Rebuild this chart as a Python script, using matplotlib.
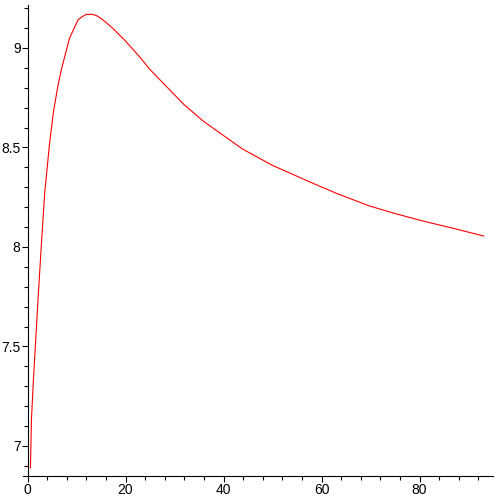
import numpy as np
import matplotlib
matplotlib.use('Agg')
import matplotlib.pyplot as plt
from matplotlib.ticker import MultipleLocator, FixedLocator

# values
x = [0.6, 0.8, 1.2, 1.6, 2.2, 2.8, 3.5, 4.5, 5.3, 6.2, 7.0, 8.57, 10.3,
     11.2, 12.0, 13.3, 14.3, 15.4, 17.4, 19.8, 22.9, 24.9, 29, 32, 36, 40,
     43.9, 50, 57.6, 63, 69.8, 75, 80.6, 87, 93.1]
y = [6.89, 7.13, 7.33, 7.5, 7.76, 8.0, 8.27, 8.52, 8.68, 8.81, 8.90, 9.049,
     9.141, 9.158, 9.169, 9.169, 9.160, 9.141, 9.099, 9.04, 8.955, 8.894,
     8.79, 8.714, 8.63, 8.56, 8.492, 8.41, 8.327, 8.27, 8.206, 8.168, 8.131,
     8.093, 8.055]

xticks = [0, 20, 40, 60, 80]
yticks = [7, 7.5, 8, 8.5, 9]
ytick_labels = ['7', '7.5', '8', '8.5', '9']

plt.rcParams['font.family'] = ['Liberation Sans', 'DejaVu Sans']

fig = plt.figure(figsize=(4.97, 4.97), dpi=100)
ax = fig.add_axes([23 / 497, 21 / 497, 470 / 497, 471 / 497])

ax.plot(x, y, color='red', linewidth=0.8)

ax.set_xlim(-0.92, 95.0)
ax.set_ylim(6.849, 9.216)

ax.spines['top'].set_visible(False)
ax.spines['right'].set_visible(False)
ax.spines['left'].set_position(('data', 0))
for s in ['left', 'bottom']:
    ax.spines[s].set_linewidth(0.8)

ax.xaxis.set_major_locator(FixedLocator(xticks))
ax.xaxis.set_minor_locator(MultipleLocator(4))
ax.yaxis.set_major_locator(FixedLocator(yticks))
ax.set_yticklabels(ytick_labels)
ax.yaxis.set_minor_locator(MultipleLocator(0.1))

ax.tick_params(axis='both', which='major', direction='out', length=4,
               width=0.8, labelsize=10, pad=1)
ax.tick_params(axis='both', which='minor', direction='out', length=3,
               width=0.8)

fig.savefig('out.png', dpi=100)
